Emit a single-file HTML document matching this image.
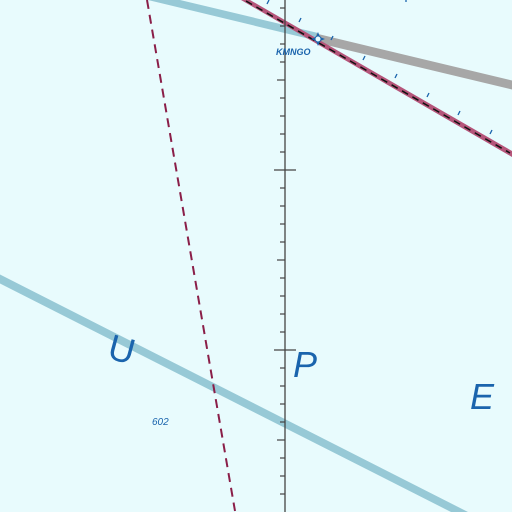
<!DOCTYPE html>
<html><head><meta charset="utf-8"><style>
html,body{margin:0;padding:0;background:#e8fbfd;width:512px;height:512px;overflow:hidden;}
svg{display:block}
text{font-family:"Liberation Sans",sans-serif;fill:#1a64ad}
</style></head><body>
<svg width="512" height="512" viewBox="0 0 512 512">
<rect width="512" height="512" fill="#e8fbfd"/>
<polygon points="0,274.5 468,512 451,512 0,283.5" fill="#97c9d6"/>
<polygon points="148,0 180,0 318,33 318,41" fill="#97c9d6"/>
<polygon points="316,33.5 512,80.5 512,89.5 316,42.5" fill="#a7a7a7"/>
<line x1="147" y1="0" x2="235" y2="511" stroke="#8a1e48" stroke-width="2" stroke-dasharray="9,6"/>
<polygon points="241,0 250,0 512,151 512,157" fill="#b5557a"/>
<line x1="246" y1="1" x2="510" y2="153" stroke="#111" stroke-width="1.5" stroke-dasharray="7,5"/>
<g stroke="#1a64ad" stroke-width="1.3">
<line x1="267" y1="4" x2="269" y2="0"/><line x1="299" y1="22" x2="301" y2="18"/><line x1="331" y1="40" x2="333" y2="36"/>
<line x1="363" y1="60" x2="365" y2="56"/><line x1="395" y1="78" x2="397" y2="74"/><line x1="427" y1="97" x2="429" y2="93"/>
<line x1="458" y1="115" x2="460" y2="111"/><line x1="490" y1="134" x2="492" y2="130"/><line x1="406" y1="2" x2="406" y2="0"/>
</g>
<line x1="285" y1="0" x2="285" y2="512" stroke="#444" stroke-width="1.3"/>
<g id="ticks" stroke="#444" stroke-width="1.2"></g>
<g transform="translate(318,39)">
<path d="M0,-7 L2,-2 L7,0 L2,2 L0,7 L-2,2 L-7,0 L-2,-2Z" fill="#1a64ad"/>
<circle r="3" fill="#e8fbfd" stroke="#1a64ad" stroke-width="1"/>
</g>
<text x="276" y="55" font-size="9" font-style="italic" font-weight="bold">KMNGO</text>
<text x="0" y="0" font-size="36" transform="translate(106,358) rotate(15)">U</text>
<text x="0" y="0" font-size="36" font-style="italic" transform="translate(293,377)">P</text>
<text x="0" y="0" font-size="36" font-style="italic" transform="translate(470,409)">E</text>
<text x="152" y="425" font-size="10" font-style="italic">602</text>
</svg>
<script>
const g=document.getElementById('ticks');
for(let y=8;y<506;y+=18){
  const k=Math.round((y-170)/18);
  let len=5, right=0;
  if(((k%10)+10)%10===0){len=11;right=11;} else if(((k%5)+5)%5===0){len=8;}
  const l=document.createElementNS('http://www.w3.org/2000/svg','line');
  l.setAttribute('x1',285-len);l.setAttribute('x2',285+right);
  l.setAttribute('y1',y);l.setAttribute('y2',y);
  
  
  g.appendChild(l);
}
</script>
</body></html>
